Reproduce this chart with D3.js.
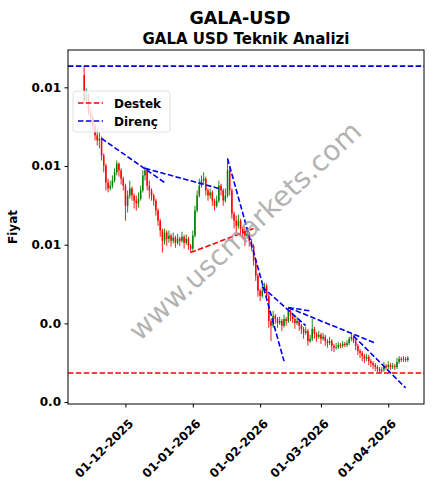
<!DOCTYPE html>
<html>
<head>
<meta charset="utf-8">
<script src="https://cdn.jsdelivr.net/npm/d3@7"></script>
<style>
  html, body { margin: 0; padding: 0; background: #fff; }
  svg { display: block; }
  text { font-family: "DejaVu Sans", sans-serif; }
</style>
</head>
<body>
<svg id="chart" width="433" height="489"></svg>
<script>
// ---------------- DATA ----------------
const title = "GALA-USD";
const subtitle = "GALA USD Teknik Analizi";
const yLabel = "Fiyat";
const startDate = "2025-11-12"; // first daily candle

const openPrices = [
  0.01031, 0.00967, 0.00980, 0.00936, 0.00921, 0.00903, 0.00878, 0.00865, 0.00870, 0.00827,
  0.00801, 0.00758, 0.00743, 0.00750, 0.00763, 0.00784, 0.00806, 0.00789, 0.00768, 0.00750,
  0.00699, 0.00725, 0.00743, 0.00725, 0.00712, 0.00705, 0.00717, 0.00738, 0.00776, 0.00789,
  0.00750, 0.00738, 0.00725, 0.00712, 0.00687, 0.00661, 0.00636, 0.00610, 0.00631, 0.00615,
  0.00623, 0.00610, 0.00618, 0.00605, 0.00615, 0.00610, 0.00620, 0.00605, 0.00615, 0.00597,
  0.00590, 0.00623, 0.00687, 0.00725, 0.00750, 0.00763, 0.00768, 0.00738, 0.00725, 0.00733,
  0.00712, 0.00699, 0.00712, 0.00750, 0.00738, 0.00712, 0.00725, 0.00789, 0.00738, 0.00679,
  0.00661, 0.00648, 0.00661, 0.00641, 0.00631, 0.00623, 0.00628, 0.00610, 0.00597, 0.00559,
  0.00521, 0.00483, 0.00470, 0.00483, 0.00496, 0.00470, 0.00406, 0.00394, 0.00419, 0.00411,
  0.00401, 0.00406, 0.00394, 0.00411, 0.00406, 0.00432, 0.00419, 0.00411, 0.00401, 0.00406,
  0.00394, 0.00386, 0.00376, 0.00381, 0.00355, 0.00361, 0.00386, 0.00373, 0.00366, 0.00371,
  0.00361, 0.00366, 0.00355, 0.00350, 0.00355, 0.00343, 0.00338, 0.00340, 0.00345, 0.00343,
  0.00348, 0.00345, 0.00350, 0.00361, 0.00366, 0.00355, 0.00343, 0.00330, 0.00325, 0.00317,
  0.00310, 0.00315, 0.00304, 0.00299, 0.00294, 0.00289, 0.00284, 0.00279, 0.00282, 0.00292,
  0.00289, 0.00294, 0.00289, 0.00292, 0.00289, 0.00302, 0.00310, 0.00307, 0.00310, 0.00307
];
const highPrices = [
  0.01054, 0.00997, 0.00985, 0.00947, 0.00930, 0.00908, 0.00896, 0.00885, 0.00875, 0.00832,
  0.00806, 0.00768, 0.00763, 0.00776, 0.00794, 0.00814, 0.00809, 0.00794, 0.00773, 0.00755,
  0.00738, 0.00763, 0.00748, 0.00730, 0.00725, 0.00733, 0.00750, 0.00789, 0.00799, 0.00794,
  0.00763, 0.00743, 0.00730, 0.00717, 0.00692, 0.00666, 0.00641, 0.00641, 0.00636, 0.00636,
  0.00628, 0.00631, 0.00623, 0.00628, 0.00620, 0.00633, 0.00625, 0.00626, 0.00620, 0.00602,
  0.00636, 0.00699, 0.00738, 0.00768, 0.00776, 0.00784, 0.00773, 0.00743, 0.00743, 0.00738,
  0.00717, 0.00725, 0.00763, 0.00755, 0.00743, 0.00743, 0.00819, 0.00799, 0.00743, 0.00684,
  0.00674, 0.00676, 0.00666, 0.00646, 0.00646, 0.00641, 0.00633, 0.00615, 0.00602, 0.00564,
  0.00526, 0.00488, 0.00496, 0.00503, 0.00501, 0.00475, 0.00411, 0.00432, 0.00424, 0.00416,
  0.00417, 0.00411, 0.00422, 0.00416, 0.00440, 0.00437, 0.00424, 0.00416, 0.00417, 0.00411,
  0.00399, 0.00391, 0.00391, 0.00386, 0.00371, 0.00411, 0.00391, 0.00378, 0.00381, 0.00376,
  0.00376, 0.00371, 0.00360, 0.00366, 0.00360, 0.00348, 0.00350, 0.00352, 0.00350, 0.00355,
  0.00353, 0.00357, 0.00366, 0.00373, 0.00371, 0.00360, 0.00348, 0.00335, 0.00330, 0.00322,
  0.00322, 0.00320, 0.00309, 0.00304, 0.00299, 0.00294, 0.00289, 0.00289, 0.00302, 0.00297,
  0.00304, 0.00299, 0.00299, 0.00297, 0.00312, 0.00317, 0.00315, 0.00317, 0.00315, 0.00317
];
const lowPrices = [
  0.00959, 0.00957, 0.00929, 0.00903, 0.00891, 0.00865, 0.00852, 0.00845, 0.00814, 0.00784,
  0.00738, 0.00733, 0.00738, 0.00743, 0.00758, 0.00776, 0.00773, 0.00753, 0.00738, 0.00661,
  0.00682, 0.00717, 0.00712, 0.00692, 0.00687, 0.00694, 0.00712, 0.00733, 0.00763, 0.00738,
  0.00717, 0.00712, 0.00699, 0.00674, 0.00648, 0.00620, 0.00580, 0.00600, 0.00597, 0.00605,
  0.00595, 0.00603, 0.00592, 0.00600, 0.00597, 0.00605, 0.00590, 0.00600, 0.00587, 0.00580,
  0.00585, 0.00618, 0.00682, 0.00720, 0.00745, 0.00755, 0.00725, 0.00712, 0.00717, 0.00699,
  0.00687, 0.00694, 0.00707, 0.00725, 0.00699, 0.00707, 0.00720, 0.00725, 0.00666, 0.00641,
  0.00631, 0.00641, 0.00623, 0.00615, 0.00597, 0.00615, 0.00595, 0.00585, 0.00547, 0.00508,
  0.00468, 0.00457, 0.00465, 0.00478, 0.00457, 0.00389, 0.00355, 0.00389, 0.00399, 0.00389,
  0.00396, 0.00381, 0.00389, 0.00394, 0.00401, 0.00406, 0.00401, 0.00386, 0.00396, 0.00381,
  0.00373, 0.00361, 0.00371, 0.00343, 0.00350, 0.00355, 0.00361, 0.00353, 0.00361, 0.00348,
  0.00356, 0.00343, 0.00338, 0.00345, 0.00330, 0.00327, 0.00333, 0.00335, 0.00337, 0.00338,
  0.00340, 0.00340, 0.00345, 0.00355, 0.00350, 0.00332, 0.00320, 0.00312, 0.00304, 0.00299,
  0.00304, 0.00294, 0.00289, 0.00284, 0.00279, 0.00276, 0.00274, 0.00274, 0.00277, 0.00282,
  0.00284, 0.00282, 0.00284, 0.00282, 0.00284, 0.00297, 0.00302, 0.00302, 0.00302, 0.00302
];
const closePrices = [
  0.00967, 0.00980, 0.00936, 0.00921, 0.00903, 0.00878, 0.00865, 0.00870, 0.00827, 0.00801,
  0.00758, 0.00743, 0.00750, 0.00763, 0.00784, 0.00806, 0.00789, 0.00768, 0.00750, 0.00699,
  0.00725, 0.00743, 0.00725, 0.00712, 0.00705, 0.00717, 0.00738, 0.00776, 0.00789, 0.00750,
  0.00738, 0.00725, 0.00712, 0.00687, 0.00661, 0.00636, 0.00610, 0.00631, 0.00615, 0.00623,
  0.00610, 0.00618, 0.00605, 0.00615, 0.00610, 0.00620, 0.00605, 0.00615, 0.00597, 0.00590,
  0.00623, 0.00687, 0.00725, 0.00750, 0.00763, 0.00768, 0.00738, 0.00725, 0.00733, 0.00712,
  0.00699, 0.00712, 0.00750, 0.00738, 0.00712, 0.00725, 0.00789, 0.00738, 0.00679, 0.00661,
  0.00648, 0.00661, 0.00641, 0.00631, 0.00623, 0.00628, 0.00610, 0.00597, 0.00559, 0.00521,
  0.00483, 0.00470, 0.00483, 0.00496, 0.00470, 0.00406, 0.00394, 0.00419, 0.00411, 0.00401,
  0.00406, 0.00394, 0.00411, 0.00406, 0.00432, 0.00419, 0.00411, 0.00401, 0.00406, 0.00394,
  0.00386, 0.00376, 0.00381, 0.00355, 0.00361, 0.00386, 0.00373, 0.00366, 0.00371, 0.00361,
  0.00366, 0.00355, 0.00350, 0.00355, 0.00343, 0.00338, 0.00340, 0.00345, 0.00343, 0.00348,
  0.00345, 0.00350, 0.00361, 0.00366, 0.00355, 0.00343, 0.00330, 0.00325, 0.00317, 0.00310,
  0.00315, 0.00304, 0.00299, 0.00294, 0.00289, 0.00284, 0.00279, 0.00282, 0.00292, 0.00289,
  0.00294, 0.00289, 0.00292, 0.00289, 0.00302, 0.00310, 0.00307, 0.00310, 0.00307, 0.00312
];

// horizontal levels
const supportLevel = 0.00274;     // Destek
const resistanceLevel = 0.01054;  // Direnç

// trend lines: [[date, value], [date, value]]
const supportLines = [
  [["2025-12-31", 0.00580], ["2026-01-29", 0.00641]]
];
const resistanceLines = [
  [["2025-11-20", 0.00870], ["2025-12-19", 0.00758]],
  [["2025-12-10", 0.00794], ["2026-01-13", 0.00743]],
  [["2026-01-17", 0.00819], ["2026-02-12", 0.00304]],
  [["2026-02-02", 0.00493], ["2026-02-22", 0.00394]],
  [["2026-02-14", 0.00440], ["2026-02-24", 0.00432]],
  [["2026-02-14", 0.00440], ["2026-03-26", 0.00350]],
  [["2026-03-16", 0.00368], ["2026-04-09", 0.00236]]
];

const xTickDates = ["2025-12-01", "2026-01-01", "2026-02-01", "2026-03-01", "2026-04-01"];
const xTickLabels = ["01-12-2025", "01-01-2026", "01-02-2026", "01-03-2026", "01-04-2026"];
const yTickValues = [0.002, 0.004, 0.006, 0.008, 0.010];
const yTickLabels = ["0.0", "0.0", "0.01", "0.01", "0.01"];
const legendLabels = ["Destek", "Direnç"];
const watermark = "www.uscmarkets.com";

// ---------------- CHART ----------------
const parse = d3.utcParse("%Y-%m-%d");
const start = parse(startDate);
const candles = closePrices.map((c, i) => ({
  date: d3.utcDay.offset(start, i),
  o: openPrices[i], h: highPrices[i], l: lowPrices[i], c: c
}));

const svg = d3.select("#chart");
const M = { left: 68, right: 424, top: 50, bottom: 404 };

const dayMs = 86400000;
const xMin = candles[0].date, xMax = candles[candles.length - 1].date;
const xSpan = xMax - xMin;
const x = d3.scaleUtc()
  .domain([new Date(+xMin - 0.05 * xSpan), new Date(+xMax + 0.05 * xSpan)])
  .range([M.left, M.right]);

const allVals = [...highPrices, ...lowPrices, supportLevel, resistanceLevel,
  ...supportLines.flat().map(p => p[1]), ...resistanceLines.flat().map(p => p[1])];
const vMin = d3.min(allVals), vMax = d3.max(allVals);
const vPad = 0.05 * (vMax - vMin);
const y = d3.scaleLinear().domain([vMin - vPad, vMax + vPad]).range([M.bottom, M.top]);

// clip
svg.append("defs").append("clipPath").attr("id", "clip")
  .append("rect").attr("x", M.left).attr("y", M.top)
  .attr("width", M.right - M.left).attr("height", M.bottom - M.top);

// titles
svg.append("text").attr("x", 240).attr("y", 24).attr("text-anchor", "middle")
  .attr("font-size", 17.5).attr("font-weight", "bold").text(title);
svg.append("text").attr("x", 246).attr("y", 44).attr("text-anchor", "middle")
  .attr("font-size", 15).attr("font-weight", "bold").text(subtitle);

const plot = svg.append("g").attr("clip-path", "url(#clip)");

// watermark
svg.append("text")
  .attr("transform", "translate(246,232) rotate(-43)")
  .attr("text-anchor", "middle").attr("dominant-baseline", "middle")
  .attr("font-size", 28).attr("fill", "#999999").attr("fill-opacity", 0.75)
  .text(watermark);

// candles
const bw = 0.7 * (x(new Date(+xMin + dayMs)) - x(xMin));
const cg = plot.append("g");
cg.selectAll("line.wick").data(candles).join("line").attr("class", "wick")
  .attr("x1", d => x(d.date)).attr("x2", d => x(d.date))
  .attr("y1", d => y(d.h)).attr("y2", d => y(d.l))
  .attr("stroke", d => d.c >= d.o ? "green" : "red").attr("stroke-width", 0.9);
cg.selectAll("rect.body").data(candles).join("rect").attr("class", "body")
  .attr("x", d => x(d.date) - bw / 2).attr("width", bw)
  .attr("y", d => y(Math.max(d.o, d.c)))
  .attr("height", d => Math.max(0.8, Math.abs(y(d.o) - y(d.c))))
  .attr("fill", d => d.c >= d.o ? "green" : "red");

const dash = "5.5,2.4";
// horizontal levels
plot.append("line").attr("x1", M.left).attr("x2", M.right)
  .attr("y1", y(supportLevel)).attr("y2", y(supportLevel))
  .attr("stroke", "red").attr("stroke-width", 1.6).attr("stroke-dasharray", dash);
plot.append("line").attr("x1", M.left).attr("x2", M.right)
  .attr("y1", y(resistanceLevel)).attr("y2", y(resistanceLevel))
  .attr("stroke", "#0000cc").attr("stroke-width", 1.6).attr("stroke-dasharray", dash);

const lineGen = d3.line().x(p => x(parse(p[0]))).y(p => y(p[1]));
plot.selectAll("path.sup").data(supportLines).join("path").attr("class", "sup")
  .attr("d", lineGen).attr("fill", "none").attr("stroke", "red")
  .attr("stroke-width", 1.6).attr("stroke-dasharray", dash);
plot.selectAll("path.res").data(resistanceLines).join("path").attr("class", "res")
  .attr("d", lineGen).attr("fill", "none").attr("stroke", "#0000ee")
  .attr("stroke-width", 1.6).attr("stroke-dasharray", dash);

// axes
const xAxis = d3.axisBottom(x).tickValues(xTickDates.map(parse))
  .tickFormat((d, i) => xTickLabels[i]).tickSize(3.5).tickPadding(3);
const gx = svg.append("g").attr("transform", `translate(0,${M.bottom})`).call(xAxis);
gx.select(".domain").remove();
gx.selectAll("text").attr("font-size", 12).attr("font-weight", "bold")
  .attr("font-family", "DejaVu Sans").attr("fill", "#000")
  .attr("text-anchor", "end").attr("dy", null)
  .attr("transform", "translate(2,14) rotate(-45)").attr("y", 0).attr("x", 0)
  .attr("dominant-baseline", "hanging");
gx.selectAll("line").attr("stroke", "#000");

const yAxis = d3.axisLeft(y).tickValues(yTickValues)
  .tickFormat((d, i) => yTickLabels[i]).tickSize(3.5).tickPadding(3.5);
const gy = svg.append("g").attr("transform", `translate(${M.left},0)`).call(yAxis);
gy.select(".domain").remove();
gy.selectAll("text").attr("font-size", 12).attr("font-weight", "bold")
  .attr("font-family", "DejaVu Sans").attr("fill", "#000");
gy.selectAll("line").attr("stroke", "#000");

svg.append("text").attr("transform", "translate(17,227) rotate(-90)")
  .attr("text-anchor", "middle").attr("font-size", 12).attr("font-weight", "bold")
  .text(yLabel);

// frame
svg.append("rect").attr("x", M.left).attr("y", M.top)
  .attr("width", M.right - M.left).attr("height", M.bottom - M.top)
  .attr("fill", "none").attr("stroke", "#000").attr("stroke-width", 1);

// legend
const lg = svg.append("g");
lg.append("rect").attr("x", 73).attr("y", 91).attr("width", 97).attr("height", 41)
  .attr("rx", 3).attr("fill", "#fff").attr("fill-opacity", 0.8)
  .attr("stroke", "#d8d8d8").attr("stroke-width", 0.8);
const legColors = ["red", "#0000ee"];
legendLabels.forEach((lab, i) => {
  const yy = 103 + i * 18;
  lg.append("line").attr("x1", 78).attr("x2", 103).attr("y1", yy).attr("y2", yy)
    .attr("stroke", legColors[i]).attr("stroke-width", 1.6).attr("stroke-dasharray", dash);
  lg.append("text").attr("x", 114).attr("y", yy + 4.5).attr("font-size", 12)
    .attr("font-weight", "bold").text(lab);
});
</script>
</body>
</html>
